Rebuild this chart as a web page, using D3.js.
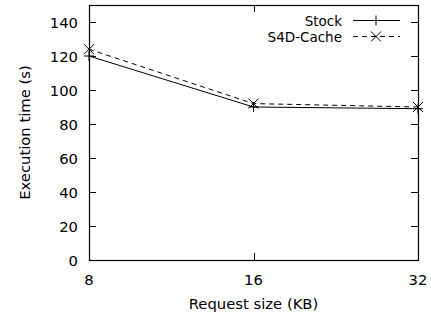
<!DOCTYPE html>
<html>
<head>
<meta charset="utf-8">
<script src="https://cdn.jsdelivr.net/npm/d3@7"></script>
<style>
  body { margin: 0; background: #fff; }
  text { font-family: 'DejaVu Sans', sans-serif; fill: #000; }
</style>
</head>
<body>
<div id="chart"></div>
<script>
// request sizes (KB) and execution times (s)
const sizes = ['8', '16', '32'];
const stock = [120, 90, 89];
const s4dCache = [124, 92, 90];
const yTicks = [0, 20, 40, 60, 80, 100, 120, 140];

const outerWidth = 431;
const outerHeight = 320;
const margin = { top: 5, right: 13, bottom: 60, left: 89 };
const width = outerWidth - margin.left - margin.right;
const height = outerHeight - margin.top - margin.bottom;
const tickLen = 7;
const fontSize = 14.8;
const legendFontSize = 13.5;

const svg = d3.select('#chart')
  .append('svg')
  .attr('width', outerWidth)
  .attr('height', outerHeight);

const g = svg.append('g')
  .attr('transform', `translate(${margin.left},${margin.top})`);

const x = d3.scalePoint().domain(sizes).range([0, width]);
const y = d3.scaleLinear().domain([0, 150]).range([height, 0]);

// ticks pointing inwards, mirrored on all four sides
const ticks = g.append('g').attr('stroke', '#000').attr('stroke-width', 1);
yTicks.forEach(t => {
  const yy = Math.round(y(t)) + 0.5;
  ticks.append('line').attr('x1', 0).attr('x2', tickLen).attr('y1', yy).attr('y2', yy);
  ticks.append('line').attr('x1', width - tickLen).attr('x2', width).attr('y1', yy).attr('y2', yy);
});
sizes.forEach(s => {
  const xx = Math.round(x(s)) + 0.5;
  ticks.append('line').attr('x1', xx).attr('x2', xx).attr('y1', height).attr('y2', height - tickLen);
  ticks.append('line').attr('x1', xx).attr('x2', xx).attr('y1', 0).attr('y2', tickLen);
});

// tick labels
g.append('g')
  .selectAll('text')
  .data(yTicks)
  .enter()
  .append('text')
    .attr('x', -11)
    .attr('y', d => y(d))
    .attr('text-anchor', 'end')
    .attr('dominant-baseline', 'central')
    .attr('font-size', fontSize + 'px')
    .text(d => d);

g.append('g')
  .selectAll('text')
  .data(sizes)
  .enter()
  .append('text')
    .attr('x', d => x(d))
    .attr('y', height + 19)
    .attr('text-anchor', 'middle')
    .attr('dominant-baseline', 'central')
    .attr('font-size', fontSize + 'px')
    .text(d => d);

// axis titles
g.append('text')
  .attr('x', width / 2)
  .attr('y', height + 43)
  .attr('text-anchor', 'middle')
  .attr('dominant-baseline', 'central')
  .attr('font-size', fontSize + 'px')
  .text('Request size (KB)');

g.append('text')
  .attr('transform', `translate(${24 - margin.left},${height / 2}) rotate(-90)`)
  .attr('text-anchor', 'middle')
  .attr('dominant-baseline', 'central')
  .attr('font-size', fontSize + 'px')
  .text('Execution time (s)');

// series
const series = [
  { name: 'Stock', values: stock, dash: null, marker: 'plus' },
  { name: 'S4D-Cache', values: s4dCache, dash: '5,4', marker: 'cross' }
];

const line = d3.line()
  .x((d, i) => x(sizes[i]))
  .y(d => y(d));

const markerSize = 5;
function drawMarker(sel, type, cx, cy) {
  if (type === 'plus') {
    sel.append('path')
      .attr('d', `M${cx - markerSize},${cy}H${cx + markerSize}M${cx},${cy - markerSize}V${cy + markerSize}`);
  } else {
    sel.append('path')
      .attr('d', `M${cx - markerSize},${cy - markerSize}L${cx + markerSize},${cy + markerSize}M${cx - markerSize},${cy + markerSize}L${cx + markerSize},${cy - markerSize}`);
  }
}

series.forEach(s => {
  g.append('path')
    .datum(s.values)
    .attr('d', line)
    .attr('fill', 'none')
    .attr('stroke', '#000')
    .attr('stroke-width', 1)
    .attr('stroke-dasharray', s.dash);
  const mk = g.append('g').attr('stroke', '#000').attr('stroke-width', 1).attr('fill', 'none');
  s.values.forEach((v, i) => drawMarker(mk, s.marker, x(sizes[i]), y(v)));
});

// legend
const legend = g.append('g');
series.forEach((s, i) => {
  const ly = 15.5 + 16 * i;
  legend.append('text')
    .attr('x', 342 - margin.left)
    .attr('y', ly)
    .attr('text-anchor', 'end')
    .attr('dominant-baseline', 'central')
    .attr('font-size', legendFontSize + 'px')
    .text(s.name);
  legend.append('line')
    .attr('x1', 353 - margin.left)
    .attr('x2', 400 - margin.left)
    .attr('y1', ly)
    .attr('y2', ly)
    .attr('stroke', '#000')
    .attr('stroke-dasharray', s.dash);
  const mk = legend.append('g').attr('stroke', '#000').attr('fill', 'none');
  drawMarker(mk, s.marker, 376 - margin.left, ly);
});

// frame
g.append('rect')
  .attr('x', 0.5)
  .attr('y', 0.5)
  .attr('width', width)
  .attr('height', height)
  .attr('fill', 'none')
  .attr('stroke', '#000')
  .attr('stroke-width', 1.2);
</script>
</body>
</html>
